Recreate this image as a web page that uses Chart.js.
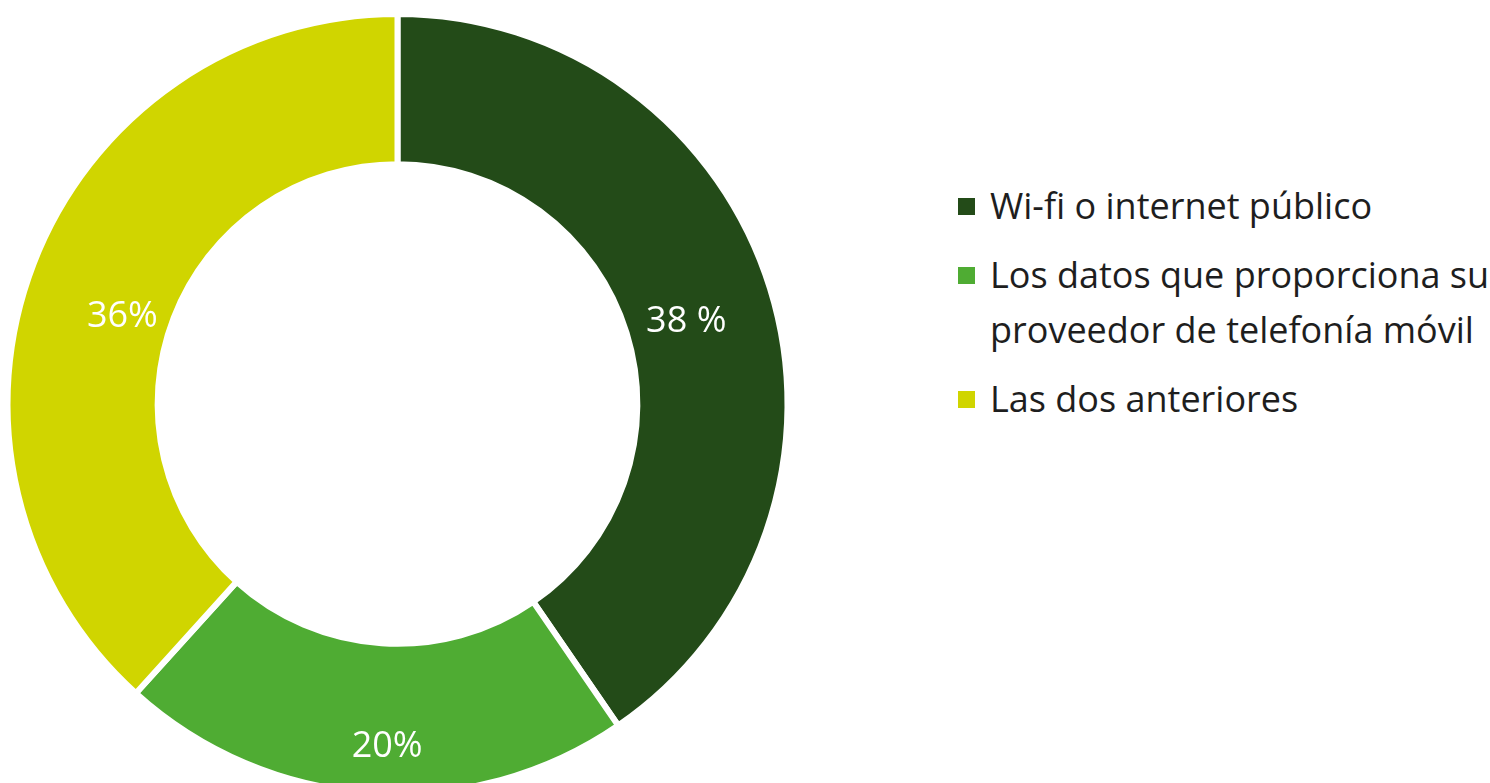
<!DOCTYPE html>
<html>
<head>
<meta charset="utf-8">
<script src="https://cdn.jsdelivr.net/npm/chart.js@4/dist/chart.umd.min.js"></script>
<style>
  html, body { margin: 0; padding: 0; background: #fff; width: 1490px; height: 783px; overflow: hidden; }
  #wrap { position: absolute; left: 0; top: 0; width: 795px; height: 808px; }
  #legend { position: absolute; left: 958px; top: 178px; display: flex; flex-direction: column; gap: 14px;
            font-family: 'Open Sans', sans-serif; font-size: 36px; line-height: 55px; color: #1e1e1e; }
  .item { position: relative; padding-left: 32px; white-space: pre-line; }
  .sw { position: absolute; left: 0; top: 20px; width: 17px; height: 17px; }
</style>
</head>
<body>
<div id="wrap"><canvas id="c"></canvas></div>
<div id="legend"></div>
<script>
// ---- data ----
const categories = ['Wi-fi o internet público', 'Los datos que proporciona su\nproveedor de telefonía móvil', 'Las dos anteriores'];
const values = [38, 20, 36];
const valueLabels = ['38 %', '20%', '36%'];
const colors = ['#234B18', '#4FAC33', '#D0D500'];

// label placement (fraction of outer radius, angle shift in degrees)
const labelRadius = [0.77, 0.88, 0.74];
const labelShift = [1.3, -2.1, -3.5];

const labelPlugin = {
  id: 'sliceLabels',
  afterDatasetsDraw(chart) {
    const ctx = chart.ctx;
    const meta = chart.getDatasetMeta(0);
    ctx.save();
    ctx.fillStyle = '#ffffff';
    ctx.font = '500 36px "Open Sans", sans-serif';
    ctx.textAlign = 'center';
    ctx.textBaseline = 'middle';
    meta.data.forEach((arc, i) => {
      const p = arc.getProps(['x', 'y', 'startAngle', 'endAngle', 'outerRadius'], true);
      const a = (p.startAngle + p.endAngle) / 2 + labelShift[i] * Math.PI / 180;
      const r = p.outerRadius * labelRadius[i];
      ctx.fillText(valueLabels[i], p.x + r * Math.cos(a), p.y + r * Math.sin(a));
    });
    ctx.restore();
  }
};

const chart = new Chart(document.getElementById('c'), {
  type: 'doughnut',
  data: {
    labels: categories,
    datasets: [{
      data: values,
      backgroundColor: colors,
      borderColor: '#ffffff',
      borderWidth: 6,
      hoverOffset: 0
    }]
  },
  options: {
    responsive: true,
    maintainAspectRatio: false,
    animation: false,
    radius: 390,
    cutout: '61.5%',
    layout: { padding: 0 },
    plugins: { legend: { display: false }, tooltip: { enabled: false } }
  },
  plugins: [labelPlugin]
});

// HTML legend built from the same arrays
const leg = document.getElementById('legend');
categories.forEach((name, i) => {
  const it = document.createElement('div');
  it.className = 'item';
  const sw = document.createElement('span');
  sw.className = 'sw';
  sw.style.background = colors[i];
  it.appendChild(sw);
  it.appendChild(document.createTextNode(name));
  leg.appendChild(it);
});
</script>
</body>
</html>
